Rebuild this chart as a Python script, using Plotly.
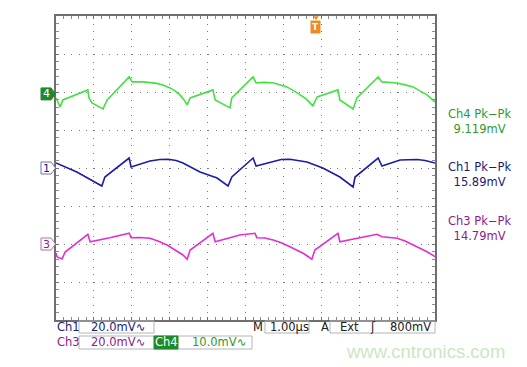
import plotly.graph_objects as go

# ---- data (time in µs, amplitude in mV relative to channel ground) ----
ch4_t = [0.00, 0.11, 0.18, 0.84, 0.87, 0.95, 1.24, 1.35, 1.93, 2.01, 2.30, 2.48, 2.66, 2.82, 3.01, 3.14, 3.27, 3.38, 3.46,
         3.54, 4.14, 4.20, 4.59, 4.64, 5.20, 5.28, 5.51, 5.75, 5.91, 6.09, 6.28, 6.44, 6.60, 6.70, 6.78,
         6.89, 7.44, 7.49, 7.84, 7.94, 8.50, 8.60, 8.81, 9.00, 9.21, 9.42, 9.60, 9.79, 10.00]
ch4_mv = [-1.05, -3.42, -1.58, 1.05, -1.05, -2.37, -3.95, -1.58, 4.47, 3.16, 3.16, 3.03, 2.76, 2.37, 1.58, 0.79, -0.26, -1.58, -2.89,
          -1.05, 1.05, -1.58, -3.68, -1.05, 4.47, 2.89, 3.03, 2.89, 2.37, 1.84, 0.79, -0.26, -1.32, -2.37, -3.16,
          -0.79, 1.05, -1.58, -3.95, -1.05, 4.47, 3.16, 3.03, 2.89, 2.37, 1.84, 0.79, -0.26, -2.11]

ch1_t = [0.00, 0.55, 1.21, 1.29, 1.93, 1.98, 2.48, 2.74, 2.96, 3.17, 3.35, 3.80, 4.25, 4.54,
         4.64, 5.20, 5.28, 5.75, 5.94, 6.17, 6.39, 6.62, 7.04, 7.49, 7.84,
         7.89, 8.50, 8.60, 9.08, 9.34, 9.53, 9.74, 10.00]
ch1_mv = [2.63, -2.11, -9.47, -4.74, 5.26, 0.53, 3.68, 4.47, 4.58, 3.95, 2.63, -2.11, -5.26, -9.47,
          -4.74, 5.26, 1.05, 3.68, 4.47, 4.58, 3.95, 3.16, 0.00, -4.74, -10.0,
          -4.74, 5.26, 1.05, 4.21, 4.58, 4.47, 3.95, 2.63]

ch3_t = [0.00, 0.03, 0.16, 0.24, 0.84, 0.90, 1.42, 1.93, 1.98, 2.22, 2.48, 2.69, 2.93, 3.14, 3.35, 3.46,
         3.54, 4.14, 4.20, 4.85, 5.25, 5.30, 5.51, 5.73, 5.96, 6.17, 6.36, 6.52, 6.65, 6.75,
         6.83, 7.44, 7.49, 7.94, 8.47, 8.60, 8.81, 9.00, 9.21, 9.42, 9.60, 9.79, 10.00]
ch3_mv = [-4.74, -6.84, -7.89, -4.21, 5.11, 1.21, 3.32, 5.63, 3.32, 3.42, 3.00, 1.58, -0.53, -3.16, -5.79, -8.05,
          -3.16, 5.63, 1.21, 4.74, 5.63, 3.32, 3.16, 2.11, 0.53, -1.42, -3.16, -4.89, -6.58, -8.05,
          -3.16, 5.63, 1.21, 3.00, 5.11, 3.84, 3.42, 3.00, 1.58, -0.53, -2.11, -4.05, -6.68]

pk_labels = ["Ch4 Pk\u2212Pk<br>9.119mV", "Ch1 Pk\u2212Pk<br>15.89mV", "Ch3 Pk\u2212Pk<br>14.79mV"]

# ---- screen set-up (positions in divisions, scales in mV/div) ----
CH4_POS, CH4_SCALE = 1.95, 10.0
CH1_POS, CH1_SCALE = 0.0, 20.0
CH3_POS, CH3_SCALE = -2.0, 20.0

GREEN, BLUE, MAGENTA = "#44e044", "#1c1ca6", "#e22ed4"
GREEN_TXT, BLUE_TXT, PURPLE_TXT = "#2f9a2f", "#1b1b78", "#8c1c8c"

fig = go.Figure()
for t, mv, pos, sc, col in [(ch4_t, ch4_mv, CH4_POS, CH4_SCALE, GREEN),
                            (ch1_t, ch1_mv, CH1_POS, CH1_SCALE, BLUE),
                            (ch3_t, ch3_mv, CH3_POS, CH3_SCALE, MAGENTA)]:
    fig.add_trace(go.Scatter(x=t, y=[pos + v / sc for v in mv], mode="lines",
                             line=dict(color=col, width=1.6), hoverinfo="skip", showlegend=False))

# trigger position marker
TRIG_T = 6.86
fig.add_trace(go.Scatter(x=[TRIG_T], y=[3.96], mode="markers", cliponaxis=False,
                         marker=dict(symbol="triangle-down", size=5, color="#f08a24"),
                         hoverinfo="skip", showlegend=False))

W, H = 527, 367
L, R, T, B = 56, 435, 16, 320

def px(x):
    return (x - L) / (R - L)

def py(y):
    return (B - y) / (B - T)

axis_common = dict(showgrid=True, gridcolor="#7a7a7a", griddash="1px,6.6px", gridwidth=1,
                   showticklabels=False, zeroline=False, showline=True, linecolor="#6e6e6e",
                   linewidth=1.5, mirror="allticks", ticks="inside", ticklen=3, tickcolor="#6e6e6e",
                   minor=dict(ticks="inside", ticklen=3, tickcolor="#8c8c8c", showgrid=False),
                   fixedrange=True)
fig.update_xaxes(range=[0, 10], dtick=1, tick0=0, **axis_common)
fig.update_yaxes(range=[-4, 4], dtick=1, tick0=0, **axis_common)
fig.update_xaxes(minor_dtick=0.2)
fig.update_yaxes(minor_dtick=0.2)

shapes = []
annotations = []
FONT = "DejaVu Sans"

# channel ground markers
hh = 6 / 38
x0, x1, xt = px(41), px(51), px(55.5)
for pos, label, fill, line, tcol in [(CH4_POS, "4", "#1f8a2c", "#1f8a2c", "white"),
                                     (CH1_POS, "1", "white", "#7070b8", BLUE_TXT),
                                     (CH3_POS, "3", "white", "#b070b0", PURPLE_TXT)]:
    path = (f"M {x0},{pos + hh} L {x1},{pos + hh} L {xt},{pos} L {x1},{pos - hh} "
            f"L {x0},{pos - hh} Z")
    shapes.append(dict(type="path", xref="paper", yref="y", path=path,
                       fillcolor=fill, line=dict(color=line, width=1), layer="above"))
    annotations.append(dict(x=px(46.5), y=pos, xref="paper", yref="y", text=label, showarrow=False,
                            font=dict(family=FONT, size=11, color=tcol), xanchor="center", yanchor="middle"))

# trigger "T"
annotations.append(dict(x=TRIG_T, y=py(27), xref="x", yref="paper", text="<b>T</b>", showarrow=False,
                        bgcolor="#f08a24", borderpad=1, font=dict(family=FONT, size=9, color="white"),
                        xanchor="center", yanchor="middle"))

# Pk-Pk measurements
for (text, ypx, col) in [(pk_labels[0], 121, GREEN_TXT),
                         (pk_labels[1], 174, BLUE_TXT),
                         (pk_labels[2], 228, PURPLE_TXT)]:
    annotations.append(dict(x=px(479), y=py(ypx), xref="paper", yref="paper", text=text, showarrow=False,
                            font=dict(family=FONT, size=11.5, color=col), xanchor="center", yanchor="middle"))

# status bar boxes
for (a, b_, c, d) in [(79, 154, 321, 333), (79, 252, 336, 349), (265, 309, 321, 333), (330, 435, 321, 333)]:
    shapes.append(dict(type="rect", xref="paper", yref="paper", x0=px(a), x1=px(b_), y0=py(c), y1=py(d),
                       line=dict(color="#b4b4b4", width=1), fillcolor="rgba(0,0,0,0)"))
shapes.append(dict(type="rect", xref="paper", yref="paper", x0=px(154), x1=px(178), y0=py(336), y1=py(349),
                   line=dict(color="#1f8a2c", width=1), fillcolor="#1f8a2c"))

status = [("Ch1", 55, 327, BLUE_TXT, "left"), ("20.0mV\u223f", 89, 327, BLUE_TXT, "left"),
          ("Ch3", 55, 342, PURPLE_TXT, "left"), ("20.0mV\u223f", 89, 342, PURPLE_TXT, "left"),
          ("Ch4", 166, 342, "white", "center"), ("10.0mV\u223f", 190, 342, GREEN_TXT, "left"),
          ("M", 258, 327, "#202020", "center"), ("1.00\u00b5s", 268, 327, "#202020", "left"),
          ("A", 325, 327, "#202020", "center"), ("Ext", 338, 327, "#202020", "left"),
          ("\u0283", 373, 327, "#202020", "center"), ("800mV", 433, 327, "#202020", "right")]
for text, xx, yy, col, anc in status:
    annotations.append(dict(x=px(xx), y=py(yy), xref="paper", yref="paper", text=text, showarrow=False,
                            font=dict(family=FONT, size=11.5, color=col), xanchor=anc, yanchor="middle"))

annotations.append(dict(x=px(425), y=py(352), xref="paper", yref="paper", text="www.cntronics.com",
                        showarrow=False, font=dict(family="Liberation Sans", size=18.5, color="#cbe6c2"),
                        xanchor="center", yanchor="middle"))

fig.update_layout(width=W, height=H, autosize=False,
                  margin=dict(l=L, r=W - R, t=T, b=H - B, pad=0),
                  paper_bgcolor="white", plot_bgcolor="white",
                  shapes=shapes, annotations=annotations, showlegend=False)

fig.write_html("out.html", config={"displayModeBar": False},
               post_script="document.body.style.margin='0px';document.body.style.padding='0px';")
